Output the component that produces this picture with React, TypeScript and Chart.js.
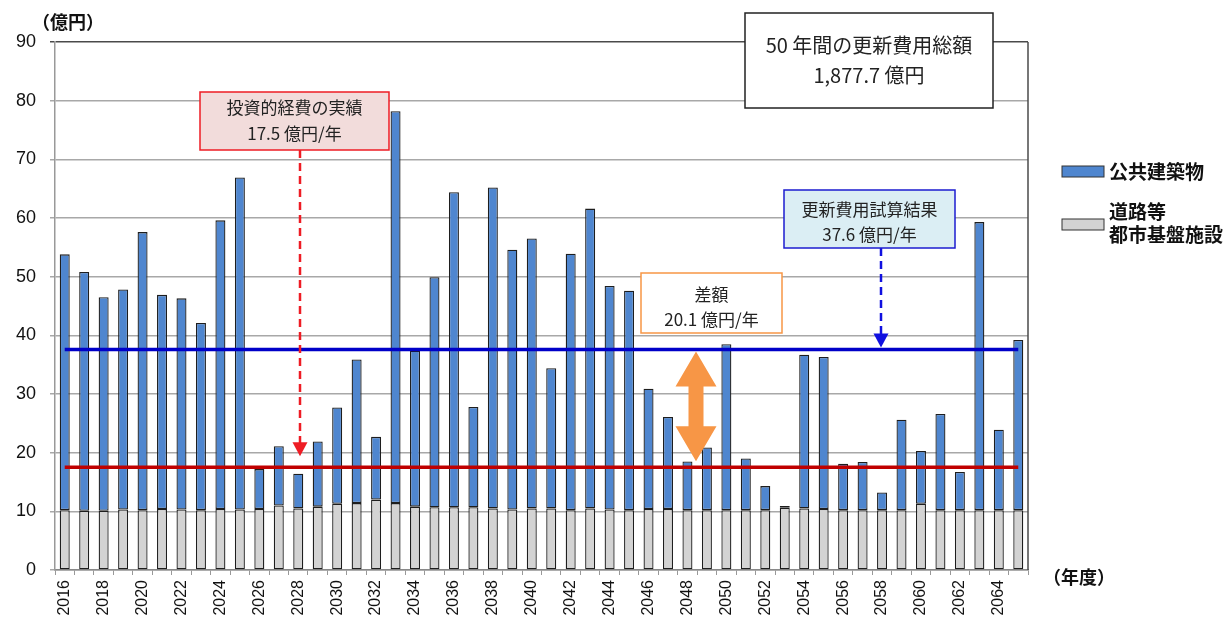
import React, { useEffect, useRef } from 'react';
import { Chart, registerables } from 'chart.js';

Chart.register(...registerables);

// ---- data ----
const years = [
  '2016', '2017', '2018', '2019', '2020', '2021', '2022', '2023', '2024', '2025',
  '2026', '2027', '2028', '2029', '2030', '2031', '2032', '2033', '2034', '2035',
  '2036', '2037', '2038', '2039', '2040', '2041', '2042', '2043', '2044', '2045',
  '2046', '2047', '2048', '2049', '2050', '2051', '2052', '2053', '2054', '2055',
  '2056', '2057', '2058', '2059', '2060', '2061', '2062', '2063', '2064', '2065',
];

// 道路等 都市基盤施設 (億円)
const infrastructure = [
  10.2, 10.1, 10.1, 10.3, 10.2, 10.4, 10.3, 10.2, 10.4, 10.3,
  10.4, 11.0, 10.5, 10.8, 11.3, 11.4, 12.0, 11.4, 10.8, 10.7,
  10.7, 10.7, 10.5, 10.3, 10.5, 10.5, 10.2, 10.5, 10.3, 10.2,
  10.4, 10.4, 10.2, 10.2, 10.2, 10.2, 10.2, 10.6, 10.5, 10.4,
  10.2, 10.2, 10.2, 10.2, 11.3, 10.2, 10.2, 10.2, 10.2, 10.2,
];

// 公共建築物 (億円)
const buildings = [
  43.6, 40.7, 36.4, 37.5, 47.4, 36.5, 36.0, 31.9, 49.2, 56.6,
  6.8, 10.1, 5.9, 11.1, 16.4, 24.5, 10.7, 66.8, 26.6, 39.2,
  53.7, 17.1, 54.7, 44.3, 46.0, 23.9, 43.7, 51.1, 38.1, 37.4,
  20.5, 15.7, 8.3, 10.7, 28.3, 8.8, 4.1, 0.3, 26.2, 25.9,
  7.9, 8.2, 3.0, 15.4, 9.0, 16.4, 6.5, 49.1, 13.7, 29.0,
];

const yTicks = [0, 10, 20, 30, 40, 50, 60, 70, 80, 90];

const ESTIMATE = 37.6; // 更新費用試算結果
const ACTUAL = 17.5; // 投資的経費の実績

const estimateLine = years.map(() => ESTIMATE);
const actualLine = years.map(() => ACTUAL);

const BLUE = '#4f86cf';
const GRAY = '#d3d3d3';
const JP = '"Noto Sans CJK JP", "Noto Sans", sans-serif';
const NUM = '"Liberation Sans", Arial, sans-serif';

function drawBox(
  ctx: CanvasRenderingContext2D,
  x1: number, y1: number, x2: number, y2: number,
  fill: string, stroke: string, lw: number,
  lines: string[], ys: number[], font: string
) {
  ctx.save();
  ctx.fillStyle = fill;
  ctx.fillRect(x1, y1, x2 - x1, y2 - y1);
  ctx.strokeStyle = stroke;
  ctx.lineWidth = lw;
  ctx.strokeRect(x1, y1, x2 - x1, y2 - y1);
  ctx.fillStyle = '#222';
  ctx.font = font;
  ctx.textAlign = 'center';
  ctx.textBaseline = 'middle';
  const cx = (x1 + x2) / 2;
  lines.forEach((t, i) => ctx.fillText(t, cx, ys[i]));
  ctx.restore();
}

function dashedArrow(
  ctx: CanvasRenderingContext2D, x: number, yStart: number, yTip: number, color: string
) {
  ctx.save();
  ctx.strokeStyle = color;
  ctx.lineWidth = 2.5;
  ctx.setLineDash([8, 5]);
  ctx.beginPath();
  ctx.moveTo(x, yStart);
  ctx.lineTo(x, yTip - 12);
  ctx.stroke();
  ctx.setLineDash([]);
  ctx.fillStyle = color;
  ctx.beginPath();
  ctx.moveTo(x - 7.5, yTip - 14);
  ctx.lineTo(x + 7.5, yTip - 14);
  ctx.lineTo(x, yTip);
  ctx.closePath();
  ctx.fill();
  ctx.restore();
}

const annotations = {
  id: 'annotations',
  afterDatasetsDraw(chart: any) {
    const { ctx, chartArea: ca, scales } = chart;
    const y = scales.y;
    ctx.save();

    // right frame line
    ctx.strokeStyle = '#4a4a4a';
    ctx.lineWidth = 1.5;
    ctx.beginPath();
    ctx.moveTo(ca.right, ca.top);
    ctx.lineTo(ca.right, ca.bottom);
    ctx.stroke();

    const yEst = y.getPixelForValue(ESTIMATE);
    const yAct = y.getPixelForValue(ACTUAL);

    // orange double arrow (difference)
    const ox = 696;
    const top = yEst + 2;
    const bot = yAct - 6;
    ctx.fillStyle = '#f79646';
    ctx.beginPath();
    ctx.moveTo(ox, top);
    ctx.lineTo(ox + 20.5, top + 35);
    ctx.lineTo(ox + 7.5, top + 35);
    ctx.lineTo(ox + 7.5, bot - 35);
    ctx.lineTo(ox + 20.5, bot - 35);
    ctx.lineTo(ox, bot);
    ctx.lineTo(ox - 20.5, bot - 35);
    ctx.lineTo(ox - 7.5, bot - 35);
    ctx.lineTo(ox - 7.5, top + 35);
    ctx.lineTo(ox - 20.5, top + 35);
    ctx.closePath();
    ctx.fill();

    // dashed arrows
    dashedArrow(ctx, 300, 150, y.getPixelForValue(19.4), '#ee1c24');
    dashedArrow(ctx, 881, 248, yEst - 2, '#1010e0');

    // boxes
    drawBox(ctx, 200, 92, 389, 150, '#f2dcdb', '#ee1c24', 1.5,
      ['投資的経費の実績', '17.5 億円/年'], [108, 134], `17px ${JP}`);
    drawBox(ctx, 784, 190, 955, 248, '#dbeef4', '#1c1cd0', 1.5,
      ['更新費用試算結果', '37.6 億円/年'], [210, 235], `17px ${JP}`);
    drawBox(ctx, 641, 273, 782, 333, '#ffffff', '#f79646', 1.5,
      ['差額', '20.1 億円/年'], [295, 320], `17px ${JP}`);
    drawBox(ctx, 745, 13, 993, 108, '#ffffff', '#222222', 1.5,
      ['50 年間の更新費用総額', '1,877.7 億円'], [45, 75], `20px ${JP}`);

    // axis titles
    ctx.fillStyle = '#111';
    ctx.font = `bold 18px ${JP}`;
    ctx.textAlign = 'left';
    ctx.textBaseline = 'middle';
    ctx.fillText('（億円）', 32, 22);
    ctx.fillText('（年度）', 1043, 577);

    // legend
    ctx.lineWidth = 1;
    ctx.strokeStyle = '#333';
    ctx.fillStyle = BLUE;
    ctx.fillRect(1062, 166, 42, 11);
    ctx.strokeRect(1062, 166, 42, 11);
    ctx.fillStyle = GRAY;
    ctx.fillRect(1062, 219, 42, 11);
    ctx.strokeRect(1062, 219, 42, 11);
    ctx.fillStyle = '#111';
    ctx.font = `bold 19px ${JP}`;
    ctx.fillText('公共建築物', 1109, 172);
    ctx.fillText('道路等', 1109, 212);
    ctx.fillText('都市基盤施設', 1109, 235);

    ctx.restore();
  },
};

export default function App() {
  const ref = useRef<HTMLCanvasElement | null>(null);

  useEffect(() => {
    document.body.style.margin = '0';
    const canvas = ref.current;
    if (!canvas) return;
    const barStyle = {
      borderColor: '#1e1e1e',
      borderWidth: 1.3,
      borderSkipped: false,
      inflateAmount: 0,
      stack: 'bars',
      order: 2,
      barThickness: 10,
    };
    const chart = new Chart(canvas, {
      type: 'bar',
      data: {
        labels: years,
        datasets: [
          {
            type: 'bar',
            label: '道路等 都市基盤施設',
            data: infrastructure,
            backgroundColor: GRAY,
            ...barStyle,
          },
          {
            type: 'bar',
            label: '公共建築物',
            data: buildings,
            backgroundColor: BLUE,
            ...barStyle,
          },
          {
            type: 'line',
            label: '更新費用試算結果',
            data: estimateLine,
            borderColor: '#0000c8',
            borderWidth: 3.5,
            pointRadius: 0,
            stack: 'est',
            order: 1,
          },
          {
            type: 'line',
            label: '投資的経費の実績',
            data: actualLine,
            borderColor: '#c00000',
            borderWidth: 3.5,
            pointRadius: 0,
            stack: 'act',
            order: 1,
          },
        ],
      } as any,
      options: {
        responsive: false,
        animation: false,
        layout: { padding: { top: 42, right: 203, left: 0, bottom: 0 } },
        plugins: {
          legend: { display: false },
          tooltip: { enabled: false },
        },
        scales: {
          x: {
            stacked: true,
            offset: true,
            grid: {
              display: true,
              drawOnChartArea: false,
              drawTicks: true,
              tickLength: 5,
              color: '#999',
              offset: true,
            },
            border: { display: true, color: '#888', width: 1.5 },
            ticks: {
              autoSkip: false,
              minRotation: 90,
              maxRotation: 90,
              padding: 5,
              color: '#111',
              font: { family: NUM, size: 16 },
              callback: (_v: any, i: number) => (i % 2 === 0 ? years[i] : ''),
            },
            afterFit: (s: any) => { s.height = 53; },
          },
          y: {
            stacked: true,
            min: 0,
            max: 90,
            afterBuildTicks: (s: any) => { s.ticks = yTicks.map((v) => ({ value: v })); },
            grid: {
              color: (c: any) => (c.tick && c.tick.value === 90 ? '#4a4a4a' : '#a8a8a8'),
              lineWidth: 1.5,
              tickLength: 5,
            },
            border: { display: true, color: '#999', width: 1.5 },
            ticks: {
              padding: 14,
              color: '#111',
              font: { family: NUM, size: 18 },
            },
            afterFit: (s: any) => { s.width = 55; },
          },
        },
      } as any,
      plugins: [annotations],
    });
    return () => chart.destroy();
  }, []);

  return (
    <div style={{ width: 1231, height: 623, background: '#fff' }}>
      <canvas ref={ref} width={1231} height={623} style={{ display: 'block' }} />
    </div>
  );
}
